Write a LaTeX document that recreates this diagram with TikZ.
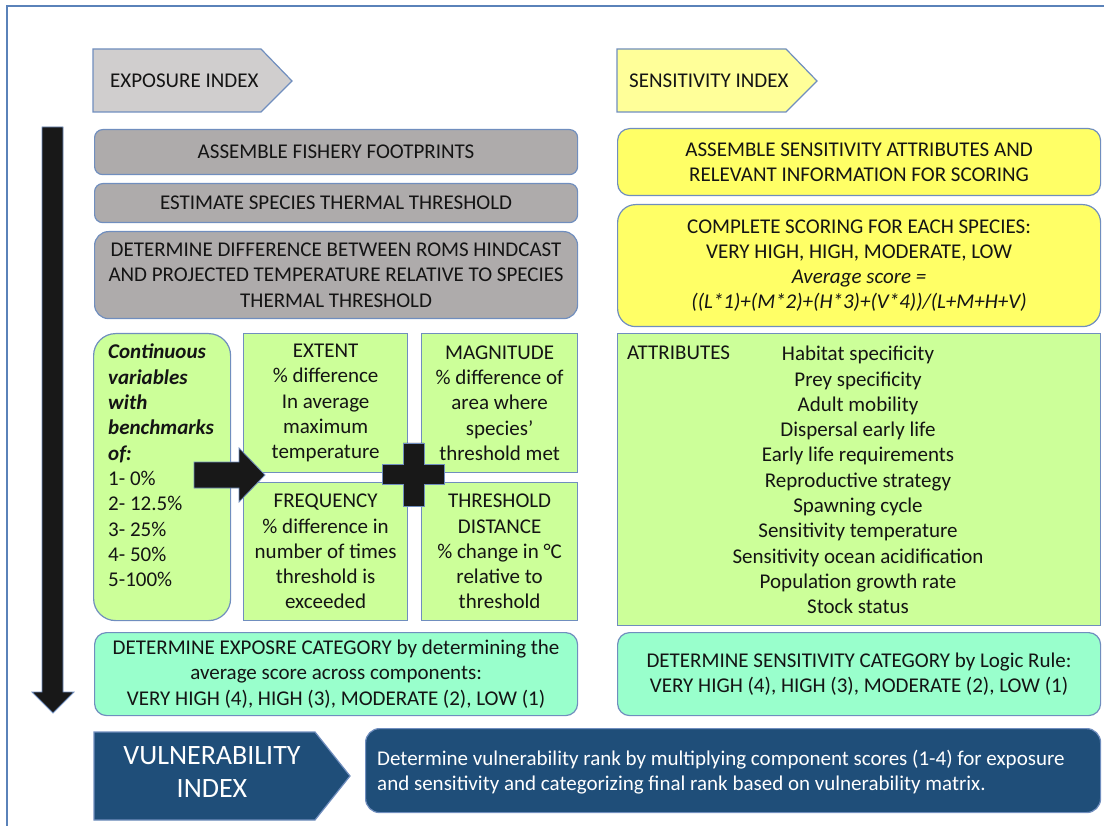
\documentclass[tikz,border=0pt]{standalone}
\usepackage{fontspec}
\setmainfont{Carlito}
\definecolor{bordc}{RGB}{112,142,190}
\definecolor{framec}{RGB}{90,130,185}
\definecolor{greyL}{RGB}{208,206,206}
\definecolor{greyD}{RGB}{174,171,171}
\definecolor{yelL}{RGB}{255,255,153}
\definecolor{yelD}{RGB}{255,255,102}
\definecolor{grn}{RGB}{204,255,153}
\definecolor{teal}{RGB}{153,255,204}
\definecolor{navy}{RGB}{31,78,121}
\definecolor{blk}{RGB}{24,24,24}
\definecolor{txt}{RGB}{20,20,20}
\newcommand{\fs}{\fontsize{21}{25.3}\selectfont}
\begin{document}
\begin{tikzpicture}[x=1pt,y=-1pt,
  bd/.style={draw=bordc, line width=1.2pt},
  boxa/.style={bd, rounded corners=8pt, align=center, inner sep=0pt, anchor=north west, font=\fs, text=txt},
  boxr/.style={bd, align=center, inner sep=0pt, anchor=north west, font=\fs, text=txt},
  lbl/.style={inner sep=0pt, font=\fs, text=txt},
  blkshape/.style={fill=blk, draw=bordc, line width=0.8pt}]
\useasboundingbox (0,0) rectangle (1104,826);
\draw[framec, line width=1.2pt] (7,830) -- (7,6) -- (1110,6);

% header pentagons
\draw[bd, fill=greyL] (93,49) -- (261,49) -- (292,81) -- (261,112) -- (93,112) -- cycle;
\node[lbl, anchor=west] (expo) at (110,81) {EXPOSURE INDEX};
\draw[bd, fill=yelL] (617,49) -- (786,49) -- (817,81) -- (786,112) -- (617,112) -- cycle;
\node[lbl, anchor=west] (sens) at (629,81) {SENSITIVITY INDEX};

% down arrow
\draw[blkshape] (42,127) -- (63,127) -- (63,692) -- (74,692) -- (53,713) -- (32,692) -- (42,692) -- cycle;

% exposure column
\node[boxa, fill=greyD, minimum width=483pt, minimum height=45pt] (fp) at (94,129) {ASSEMBLE FISHERY FOOTPRINTS};
\node[boxa, fill=greyD, minimum width=483pt, minimum height=39pt] (tt) at (94,183) {ESTIMATE SPECIES THERMAL THRESHOLD};
\node[boxa, fill=greyD, rounded corners=14pt, minimum width=483pt, minimum height=87pt] (dd) at (94,231) {DETERMINE DIFFERENCE BETWEEN ROMS HINDCAST\\AND PROJECTED TEMPERATURE RELATIVE TO SPECIES\\THERMAL THRESHOLD};

\node[boxa, fill=grn, rounded corners=22pt, minimum width=137pt, minimum height=287pt] (cv) at (93,333) {};
\node[lbl, anchor=north west, align=left] (cvt) at (108,344) {\textbf{\textit{Continuous}}\\\textbf{\textit{variables}}\\\textbf{\textit{with}}\\\textbf{\textit{benchmarks}}\\\textbf{\textit{of:}}\\1- 0\%\\2- 12.5\%\\3- 25\%\\4- 50\%\\5-100\%};

\node[boxr, fill=grn, minimum width=164pt, minimum height=139pt] (ext) at (243,333) {EXTENT\\\% difference\\In average\\maximum\\temperature};
\node[boxr, fill=grn, minimum width=156pt, minimum height=139pt] (mag) at (421,333) {MAGNITUDE\\\% difference of\\area where\\species’\\threshold met};
\node[boxr, fill=grn, minimum width=164pt, minimum height=138pt] (frq) at (243,482) {FREQUENCY\\\% difference in\\number of times\\threshold is\\exceeded};
\node[boxr, fill=grn, minimum width=156pt, minimum height=138pt] (thr) at (421,482) {THRESHOLD\\DISTANCE\\\% change in °C\\relative to\\threshold};

% block arrow and plus
\draw[blkshape] (194,462) -- (239,462) -- (239,448) -- (265,475) -- (239,502) -- (239,488) -- (194,488) -- cycle;
\draw[blkshape] (403,443) -- (424,443) -- (424,464) -- (444,464) -- (444,484) -- (424,484) -- (424,506) -- (403,506) -- (403,484) -- (382,484) -- (382,464) -- (403,464) -- cycle;

\node[boxa, fill=teal, rounded corners=12pt, minimum width=483pt, minimum height=83pt] (ec) at (94,632) {DETERMINE EXPOSRE CATEGORY by determining the\\average score across components:\\VERY HIGH (4), HIGH (3), MODERATE (2), LOW (1)};

% sensitivity column
\node[boxa, fill=yelD, rounded corners=12pt, minimum width=483pt, minimum height=67pt] (sa) at (617,128) {ASSEMBLE SENSITIVITY ATTRIBUTES AND\\RELEVANT INFORMATION FOR SCORING};
\node[boxa, fill=yelD, rounded corners=18pt, minimum width=483pt, minimum height=122pt] (cs) at (617,204) {COMPLETE SCORING FOR EACH SPECIES:\\VERY HIGH, HIGH, MODERATE, LOW\\\textit{Average score =}\\\textit{((L*1)+(M*2)+(H*3)+(V*4))/(L+M+H+V)}};
\node[boxr, fill=grn, minimum width=483pt, minimum height=292pt] (at) at (617,333) {};
\node[lbl, anchor=west] (att) at (627,353) {ATTRIBUTES};
\node[lbl, anchor=north, align=center] (atl) at (858,346) {Habitat specificity\\Prey specificity\\Adult mobility\\Dispersal early life\\Early life requirements\\Reproductive strategy\\Spawning cycle\\Sensitivity temperature\\Sensitivity ocean acidification\\Population growth rate\\Stock status};
\node[boxa, fill=teal, rounded corners=12pt, minimum width=483pt, minimum height=83pt] (sc) at (617,632) {DETERMINE SENSITIVITY CATEGORY by Logic Rule:\\VERY HIGH (4), HIGH (3), MODERATE (2), LOW (1)};

% vulnerability
\draw[bd, fill=navy] (94,732) -- (315,732) -- (350,776) -- (315,820) -- (94,820) -- cycle;
\node[lbl, text=white, align=center, font=\fontsize{28}{33}\selectfont] (vi) at (212,772) {VULNERABILITY\\INDEX};
\node[boxa, fill=navy, rounded corners=14pt, minimum width=735pt, minimum height=84pt] (vr) at (365,728) {};
\node[lbl, text=white, anchor=west, align=left] (vrt) at (377,772) {Determine vulnerability rank by multiplying component scores (1-4) for exposure\\and sensitivity and categorizing final rank based on vulnerability matrix.};
\end{tikzpicture}
\end{document}
